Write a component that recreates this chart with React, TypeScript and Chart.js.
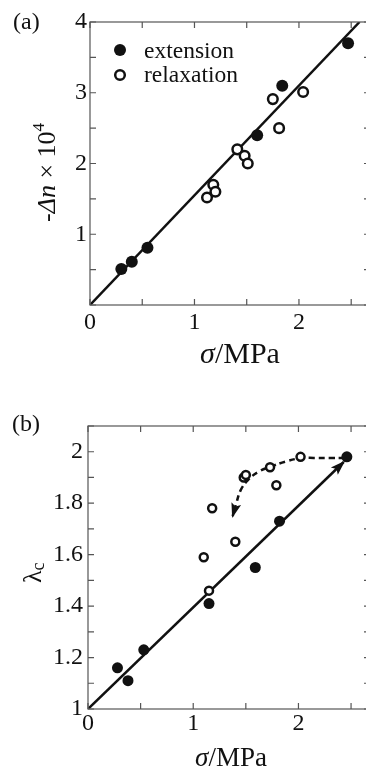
import React, { useEffect, useRef } from 'react';
import { Chart, registerables } from 'chart.js';
Chart.register(...registerables);

const FONT = '"Liberation Serif", "Times New Roman", serif';
const INK = '#111';
const AXIS = '#555';

// ---------- Panel (a): birefringence vs stress ----------
const extAX = [0.30, 0.40, 0.55, 1.60, 1.84, 2.47];
const extAY = [0.51, 0.61, 0.81, 2.40, 3.10, 3.70];
const relAX = [1.12, 1.18, 1.20, 1.41, 1.48, 1.51, 1.75, 1.81, 2.04];
const relAY = [1.52, 1.70, 1.60, 2.20, 2.11, 2.00, 2.91, 2.50, 3.01];
const fitAX = [0, 2.58];
const fitAY = [0, 4.0];
const legendLabels = ['extension', 'relaxation'];

// ---------- Panel (b): lambda_c vs stress ----------
const extBX = [0.28, 0.38, 0.53, 1.15, 1.59, 1.82, 2.46];
const extBY = [1.16, 1.11, 1.23, 1.41, 1.55, 1.73, 1.98];
const relBX = [1.10, 1.15, 1.18, 1.40, 1.48, 1.50, 1.73, 1.79, 2.02];
const relBY = [1.59, 1.46, 1.78, 1.65, 1.90, 1.91, 1.94, 1.87, 1.98];
const fitBX = [0, 2.43];
const fitBY = [1, 1.96];
const pathBX = [2.44, 2.30, 2.15, 2.02, 1.88, 1.75, 1.62, 1.52, 1.45, 1.41, 1.375];
const pathBY = [1.976, 1.976, 1.976, 1.975, 1.962, 1.944, 1.922, 1.89, 1.85, 1.80, 1.75];

// tick labels
const xLabelsA = ['0', '1', '2'];
const yLabelsA = ['1', '2', '3', '4'];
const xLabelsB = ['0', '1', '2'];
const yLabelsB = ['1', '1.2', '1.4', '1.6', '1.8', '2'];

const pts = (xs: number[], ys: number[]) => xs.map((x, i) => ({ x, y: ys[i] }));

type Piece = { t: string; italic?: boolean; size: number; dy?: number };

function drawRich(ctx: CanvasRenderingContext2D, pieces: Piece[], x: number, y: number, align: 'left' | 'center', rotate: boolean) {
  ctx.save();
  ctx.translate(x, y);
  if (rotate) ctx.rotate(-Math.PI / 2);
  ctx.fillStyle = INK;
  ctx.textBaseline = 'alphabetic';
  ctx.textAlign = 'left';
  let total = 0;
  const widths = pieces.map((p) => {
    ctx.font = `${p.italic ? 'italic ' : ''}${p.size}px ${FONT}`;
    const w = ctx.measureText(p.t).width;
    total += w;
    return w;
  });
  let cx = align === 'center' ? -total / 2 : 0;
  pieces.forEach((p, i) => {
    ctx.font = `${p.italic ? 'italic ' : ''}${p.size}px ${FONT}`;
    ctx.fillText(p.t, cx, p.dy || 0);
    cx += widths[i];
  });
  ctx.restore();
}

function framePlugin(xStep: number, yStep: number, extra: (ctx: CanvasRenderingContext2D, chart: any) => void) {
  return {
    id: 'frame',
    afterDatasetsDraw(chart: any) {
      const ctx = chart.ctx as CanvasRenderingContext2D;
      const { left, right, top, bottom } = chart.chartArea;
      const xs = chart.scales.x;
      const ys = chart.scales.y;
      ctx.save();
      ctx.strokeStyle = AXIS;
      ctx.lineWidth = 1.2;
      ctx.strokeRect(left, top, right - left, bottom - top);
      const len = 6;
      ctx.beginPath();
      for (let i = 0; ; i++) {
        const v = xs.min + i * xStep;
        if (v > xs.max + 1e-9) break;
        const p = xs.getPixelForValue(v);
        ctx.moveTo(p, bottom); ctx.lineTo(p, bottom - len);
        ctx.moveTo(p, top); ctx.lineTo(p, top + len);
      }
      for (let i = 0; ; i++) {
        const v = ys.min + i * yStep;
        if (v > ys.max + 1e-9) break;
        const p = ys.getPixelForValue(v);
        ctx.moveTo(left, p); ctx.lineTo(left + len, p);
        ctx.moveTo(right, p); ctx.lineTo(right - len, p);
      }
      ctx.stroke();
      ctx.restore();

      // arrow heads
      chart.data.datasets.forEach((ds: any, i: number) => {
        if (!ds.arrow) return;
        const meta = chart.getDatasetMeta(i);
        const n = meta.data.length;
        const e = meta.data[n - 1];
        const prev = meta.data[n - 2];
        let fx = prev.x, fy = prev.y;
        if (e.cp1x !== undefined && Math.hypot(e.cp1x - e.x, e.cp1y - e.y) > 1) { fx = e.cp1x; fy = e.cp1y; }
        const ang = Math.atan2(e.y - fy, e.x - fx);
        const L = 13, W = 5;
        ctx.save();
        ctx.fillStyle = INK;
        ctx.translate(e.x, e.y);
        ctx.rotate(ang);
        ctx.beginPath();
        ctx.moveTo(2, 0);
        ctx.lineTo(-L, -W);
        ctx.lineTo(-L + 3, 0);
        ctx.lineTo(-L, W);
        ctx.closePath();
        ctx.fill();
        ctx.restore();
      });
      extra(ctx, chart);
    },
  };
}

function labelCb(list: string[]) {
  return (v: any) => {
    const val = Number(v);
    const s = Math.abs(val - Math.round(val)) < 1e-6 ? String(Math.round(val)) : val.toFixed(1);
    return list.includes(s) ? s : '';
  };
}

function buildA() {
  const extra = (ctx: CanvasRenderingContext2D) => {
    // legend
    ctx.save();
    ctx.fillStyle = INK;
    ctx.beginPath(); ctx.arc(120, 50, 6, 0, Math.PI * 2); ctx.fill();
    ctx.strokeStyle = INK; ctx.lineWidth = 2.5;
    ctx.beginPath(); ctx.arc(120, 75, 4.8, 0, Math.PI * 2); ctx.fillStyle = '#fff'; ctx.fill(); ctx.stroke();
    ctx.fillStyle = INK;
    ctx.font = `23.5px ${FONT}`;
    ctx.textBaseline = 'alphabetic';
    ctx.fillText(legendLabels[0], 144, 58);
    ctx.fillText(legendLabels[1], 144, 82);
    ctx.font = `24px ${FONT}`;
    ctx.fillText('(a)', 13, 29);
    ctx.restore();
    drawRich(ctx, [{ t: 'σ', italic: true, size: 30 }, { t: '/MPa', size: 30 }], 240, 363, 'center', false);
    drawRich(ctx, [
      { t: '-', size: 26 },
      { t: 'Δn', italic: true, size: 26 },
      { t: ' × 10', size: 26 },
      { t: '4', size: 17, dy: -11 },
    ], 55, 222, 'left', true);
  };
  return {
    H: 375,
    config: {
      type: 'scatter',
      data: {
        datasets: [
          { label: legendLabels[0], data: pts(extAX, extAY), pointRadius: 6, pointBackgroundColor: INK, pointBorderColor: INK, pointBorderWidth: 0 },
          { label: legendLabels[1], data: pts(relAX, relAY), pointRadius: 4.8, pointBackgroundColor: '#fff', pointBorderColor: INK, pointBorderWidth: 2.5 },
          { label: 'fit', data: pts(fitAX, fitAY), showLine: true, pointRadius: 0, borderColor: INK, borderWidth: 2.5 },
        ],
      },
      options: {
        responsive: false,
        animation: false,
        devicePixelRatio: 1,
        layout: { padding: { top: 22, right: 10, left: 0, bottom: 0 } },
        plugins: { legend: { display: false }, tooltip: { enabled: false } },
        scales: {
          x: {
            type: 'linear', min: 0, max: 2.68,
            grid: { display: false, drawTicks: false }, border: { display: false },
            ticks: { stepSize: 0.5, includeBounds: false, autoSkip: false, maxRotation: 0, padding: 3, color: INK, font: { family: FONT, size: 24 }, callback: labelCb(xLabelsA) },
            afterFit: (s: any) => { s.height = 375 - 305; },
          },
          y: {
            type: 'linear', min: 0, max: 4,
            grid: { display: false, drawTicks: false }, border: { display: false },
            ticks: { stepSize: 0.5, includeBounds: false, autoSkip: false, padding: 3, color: INK, font: { family: FONT, size: 24 }, callback: labelCb(yLabelsA) },
            afterFit: (s: any) => { s.width = 90; },
          },
        },
      },
      plugins: [framePlugin(0.5, 0.5, extra)],
    },
  };
}

function buildB() {
  const extra = (ctx: CanvasRenderingContext2D) => {
    ctx.save();
    ctx.fillStyle = INK;
    ctx.font = `24px ${FONT}`;
    ctx.textBaseline = 'alphabetic';
    ctx.fillText('(b)', 12, 51);
    ctx.restore();
    drawRich(ctx, [{ t: 'σ', italic: true, size: 27 }, { t: '/MPa', size: 27 }], 231, 386, 'center', false);
    drawRich(ctx, [{ t: 'λ', size: 26 }, { t: 'c', size: 18, dy: 3 }], 41, 203, 'left', true);
  };
  return {
    H: 389,
    config: {
      type: 'scatter',
      data: {
        datasets: [
          { label: 'extension', data: pts(extBX, extBY), pointRadius: 5.5, pointBackgroundColor: INK, pointBorderColor: INK, pointBorderWidth: 0 },
          { label: 'relaxation', data: pts(relBX, relBY), pointRadius: 4, pointBackgroundColor: '#fff', pointBorderColor: INK, pointBorderWidth: 2.5 },
          { label: 'fit', data: pts(fitBX, fitBY), showLine: true, pointRadius: 0, borderColor: INK, borderWidth: 2.5, arrow: true },
          { label: 'path', data: pts(pathBX, pathBY), showLine: true, pointRadius: 0, borderColor: INK, borderWidth: 2.5, borderDash: [6, 4], tension: 0.4, arrow: true },
        ],
      },
      options: {
        responsive: false,
        animation: false,
        devicePixelRatio: 1,
        layout: { padding: { top: 46, right: 10, left: 0, bottom: 0 } },
        plugins: { legend: { display: false }, tooltip: { enabled: false } },
        scales: {
          x: {
            type: 'linear', min: 0, max: 2.68,
            grid: { display: false, drawTicks: false }, border: { display: false },
            ticks: { stepSize: 0.5, includeBounds: false, autoSkip: false, maxRotation: 0, padding: 0, color: INK, font: { family: FONT, size: 24 }, callback: labelCb(xLabelsB) },
            afterFit: (s: any) => { s.height = 389 - 329; },
          },
          y: {
            type: 'linear', min: 1, max: 2.1,
            grid: { display: false, drawTicks: false }, border: { display: false },
            ticks: { stepSize: 0.1, includeBounds: false, autoSkip: false, padding: 5, color: INK, font: { family: FONT, size: 24 }, callback: labelCb(yLabelsB) },
            afterFit: (s: any) => { s.width = 88; },
          },
        },
      },
      plugins: [framePlugin(0.5, 0.1, extra)],
    },
  };
}

function Panel({ build, top }: { build: () => any; top: number }) {
  const ref = useRef<HTMLCanvasElement | null>(null);
  const spec = build();
  useEffect(() => {
    if (!ref.current) return;
    const chart = new Chart(ref.current, build().config as any);
    return () => chart.destroy();
  }, []);
  return (
    <canvas
      ref={ref}
      width={380}
      height={spec.H}
      style={{ position: 'absolute', left: 0, top, width: 380, height: spec.H }}
    />
  );
}

export default function App() {
  return (
    <div style={{ position: 'fixed', left: 0, top: 0, width: 366, height: 769, overflow: 'hidden', background: '#fff' }}>
      <Panel build={buildA} top={0} />
      <Panel build={buildB} top={380} />
    </div>
  );
}
